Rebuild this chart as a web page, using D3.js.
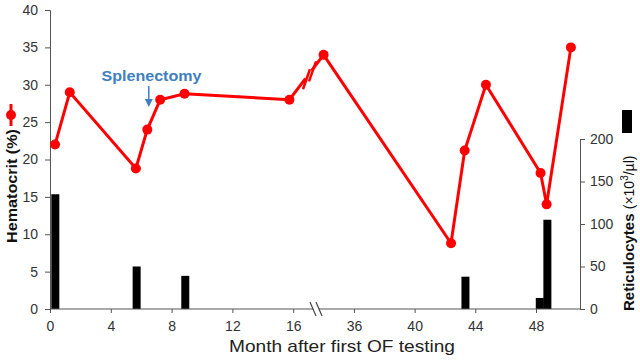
<!DOCTYPE html>
<html>
<head>
<meta charset="utf-8">
<script src="https://cdn.jsdelivr.net/npm/d3@7"></script>
<style>
  body { margin: 0; background: #fff; }
  svg { font-family: "Liberation Sans", Arial, sans-serif; }
  .axis path, .axis line { stroke: #555; }
  .axis text { fill: #333; font-size: 14px; }
</style>
</head>
<body>
<script>
// hematocrit (%) by month
var hctMonths = [0.33, 1.3, 5.65, 6.4, 7.25, 8.85, 15.75, 34, 42.4, 43.3, 44.7, 48.3, 48.7, 50.3];
var hctValues = [22, 29, 18.8, 24, 28, 28.8, 28, 34, 8.8, 21.2, 30, 18.2, 14, 35];

// reticulocytes (x10^3/ul) by month
var retMonths = [0.35, 5.7, 8.9, 43.35, 48.25, 48.75];
var retValues = [135, 50, 39, 38, 13, 105];

var xTicks = [0, 4, 8, 12, 16, 36, 40, 44, 48];
var hctTicks = [0, 5, 10, 15, 20, 25, 30, 35, 40];
var retTicks = [0, 50, 100, 150, 200];

var width = 640, height = 361;
var plotLeft = 50, plotRight = 580, plotBottom = 309, plotTop = 10;
var breakX = 316;

var svg = d3.select('body').append('svg')
  .attr('width', width)
  .attr('height', height);

// x scale with a gap between 17.5 and 33.5 months
var x = d3.scaleLinear()
  .domain([0, 17.5, 33.5, 50.9])
  .range([plotLeft, breakX, breakX, plotRight]);

var yL = d3.scaleLinear().domain([0, 40]).range([plotBottom, plotTop]);
var yR = d3.scaleLinear().domain([0, 200]).range([plotBottom, 139]);

// bars
var bars = retMonths.map(function(m, i) { return [m, retValues[i]]; });
svg.selectAll('rect.ret')
  .data(bars)
  .enter()
  .append('rect')
  .attr('class', 'ret')
  .attr('x', function(d) { return x(d[0]) - 4; })
  .attr('width', 8)
  .attr('y', function(d) { return yR(d[1]); })
  .attr('height', function(d) { return plotBottom - yR(d[1]); })
  .attr('fill', '#000');

// x axis (domain drawn by hand because of the break)
var xAxis = svg.append('g')
  .attr('class', 'axis')
  .attr('transform', 'translate(0,' + plotBottom + ')')
  .call(d3.axisBottom(x).tickValues(xTicks).tickSize(4).tickPadding(8));
xAxis.select('.domain').remove();

svg.append('line').attr('x1', plotLeft).attr('x2', breakX - 3)
  .attr('y1', plotBottom).attr('y2', plotBottom).attr('stroke', '#555');
svg.append('line').attr('x1', breakX + 3).attr('x2', plotRight)
  .attr('y1', plotBottom).attr('y2', plotBottom).attr('stroke', '#555');
[-3, 3].forEach(function(dx) {
  svg.append('line')
    .attr('x1', breakX + dx - 3).attr('y1', plotBottom - 7)
    .attr('x2', breakX + dx + 3).attr('y2', plotBottom + 7)
    .attr('stroke', '#444').attr('stroke-width', 1.2);
});

// left axis
svg.append('g')
  .attr('class', 'axis')
  .attr('transform', 'translate(' + plotLeft + ',0)')
  .call(d3.axisLeft(yL).tickValues(hctTicks).tickSize(5).tickPadding(7));

// right axis
svg.append('g')
  .attr('class', 'axis')
  .attr('transform', 'translate(' + plotRight + ',0)')
  .call(d3.axisRight(yR).tickValues(retTicks).tickSize(5).tickPadding(5));

// hematocrit line
var pts = hctMonths.map(function(m, i) { return [x(m), yL(hctValues[i])]; });
svg.append('path')
  .attr('d', d3.line()(pts))
  .attr('fill', 'none')
  .attr('stroke', '#ff0000')
  .attr('stroke-width', 3);

// break mark on the line between month 15.75 and 34
var pa = pts[6], pb = pts[7];
var mx = (pa[0] + pb[0]) / 2 + 3, my = (pa[1] + pb[1]) / 2 - 2;
var ang = Math.atan2(pb[1] - pa[1], pb[0] - pa[0]);
var ux = Math.cos(ang), uy = Math.sin(ang);
svg.append('line')
  .attr('x1', mx - ux * 5).attr('y1', my - uy * 5)
  .attr('x2', mx + ux * 5).attr('y2', my + uy * 5)
  .attr('stroke', '#fff').attr('stroke-width', 6);
[-5, 5].forEach(function(s) {
  var cx = mx + ux * s, cy = my + uy * s;
  svg.append('line')
    .attr('x1', cx - 3.5).attr('y1', cy + 10)
    .attr('x2', cx + 3.5).attr('y2', cy - 10)
    .attr('stroke', '#ff0000').attr('stroke-width', 2.5);
});

svg.selectAll('circle.hct')
  .data(pts)
  .enter()
  .append('circle')
  .attr('class', 'hct')
  .attr('cx', function(d) { return d[0]; })
  .attr('cy', function(d) { return d[1]; })
  .attr('r', 5)
  .attr('fill', '#ff0000');

// splenectomy annotation
var sx = x(6.5);
svg.append('text')
  .attr('x', 151.5).attr('y', 80.5)
  .attr('text-anchor', 'middle')
  .attr('font-size', 15).attr('font-weight', 'bold')
  .attr('textLength', 100).attr('lengthAdjust', 'spacingAndGlyphs')
  .attr('fill', '#3f7fc0')
  .text('Splenectomy');
svg.append('line')
  .attr('x1', sx).attr('x2', sx).attr('y1', 86).attr('y2', 100)
  .attr('stroke', '#3f7fc0').attr('stroke-width', 1.5);
svg.append('path')
  .attr('d', 'M' + (sx - 4) + ',99 L' + (sx + 4) + ',99 L' + sx + ',107 Z')
  .attr('fill', '#3f7fc0');

// axis titles
svg.append('text')
  .attr('x', 342).attr('y', 352)
  .attr('text-anchor', 'middle')
  .attr('font-size', 17).attr('fill', '#222')
  .attr('textLength', 226).attr('lengthAdjust', 'spacingAndGlyphs')
  .text('Month after first OF testing');

svg.append('text')
  .attr('transform', 'translate(17,186) rotate(-90)')
  .attr('text-anchor', 'middle')
  .attr('font-size', 15).attr('font-weight', 'bold').attr('fill', '#111')
  .attr('textLength', 114).attr('lengthAdjust', 'spacingAndGlyphs')
  .text('Hematocrit (%)');
svg.append('line')
  .attr('x1', 11).attr('x2', 11).attr('y1', 104).attr('y2', 126)
  .attr('stroke', '#ff0000').attr('stroke-width', 3);
svg.append('circle').attr('cx', 11).attr('cy', 115).attr('r', 5).attr('fill', '#ff0000');

var rt = svg.append('text')
  .attr('transform', 'translate(634,311) rotate(-90)')
  .attr('text-anchor', 'start')
  .attr('font-size', 15).attr('fill', '#111');
rt.append('tspan').attr('font-weight', 'bold').text('Reticulocytes ');
rt.append('tspan').attr('font-size', 14).text('(\u00d710');
rt.append('tspan').attr('font-size', 10).attr('dy', -6).text('3');
rt.append('tspan').attr('font-size', 14).attr('dy', 6).text('/\u00b5l)');
svg.append('rect')
  .attr('x', 622).attr('y', 110).attr('width', 10).attr('height', 23)
  .attr('fill', '#000');
</script>
</body>
</html>
